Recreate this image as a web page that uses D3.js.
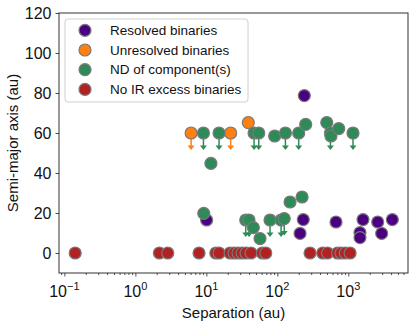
<!DOCTYPE html>
<html>
<head>
<meta charset="utf-8">
<script src="https://cdn.jsdelivr.net/npm/d3@7"></script>
<style>
  body { margin: 0; background: white; }
  svg { font-family: "Liberation Sans", Arial, sans-serif; }
</style>
</head>
<body>
<div id="chart"></div>
<script>
// Resolved binaries
const resolvedSep = [10.1, 240, 232, 209, 671, 1610, 2595, 4170, 2950, 1460, 1460];
const resolvedSma = [16.5, 78.7, 16.7, 9.8, 15.5, 16.7, 15.5, 16.7, 9.8, 10.2, 7.7];

// Unresolved binaries (lim = upper limit)
const unresolvedSep = [6.1, 22, 39];
const unresolvedSma = [60, 60, 65.2];
const unresolvedLim = [true, true, false];

// ND of component(s)
const ndSep = [9.1, 15.1, 47, 54.7, 91.8, 130, 200, 251, 497, 560, 570, 733, 1164,
               11.6, 9.2, 35.9, 39.9, 45.9, 57, 78.9, 113, 125, 151, 223];
const ndSma = [60, 60, 60, 60, 58.5, 60, 60, 64.3, 65.2, 60, 58.5, 62.2, 60,
               44.8, 19.8, 16.5, 16.5, 12.7, 7.2, 16.5, 16.5, 17.2, 25.5, 28];
const ndLim = [true, true, true, true, false, true, true, false, false, true, false, false, true,
               false, false, true, true, false, false, true, true, true, false, false];

// No IR excess binaries (all at 0)
const noExcessSep = [0.142, 2.18, 2.86, 7.89, 13.6, 15.1, 21.6, 24.6, 27.9, 31.8, 36.2, 42.6,
                     61.5, 68.7, 289, 436, 509, 705, 789, 907, 1059];

const xTicks = [0.1, 1, 10, 100, 1000];
const xTickExp = ["\u22121", "0", "1", "2", "3"];
const yTicks = [0, 20, 40, 60, 80, 100, 120];

const width = 416, height = 327;
const m = { left: 59, right: 8, top: 13, bottom: 54 };
const arrowLen = 8; // data units of the upper-limit arrows

const svg = d3.select("#chart").append("svg")
    .attr("width", width)
    .attr("height", height);

const x = d3.scaleLog()
    .domain([0.084, 6930])
    .range([m.left, width - m.right]);

const y = d3.scaleLinear()
    .domain([-10, 120])
    .range([height - m.bottom, m.top]);

// x axis: major + minor ticks
const minor = [];
for (let e = -2; e <= 3; e++) {
  for (let k = 2; k <= 9; k++) {
    const v = k * Math.pow(10, e);
    if (v >= x.domain()[0] && v <= x.domain()[1]) minor.push(v);
  }
}
svg.append("g")
    .attr("transform", `translate(0,${height - m.bottom})`)
    .call(d3.axisBottom(x).tickValues(minor).tickSize(2).tickFormat(""))
    .call(g => g.select(".domain").remove())
    .selectAll("line").attr("stroke", "#222").attr("stroke-width", 0.8);

const xAxis = svg.append("g")
    .attr("transform", `translate(0,${height - m.bottom})`)
    .call(d3.axisBottom(x).tickValues(xTicks).tickSize(3.5).tickFormat(""));
xAxis.select(".domain").remove();
xAxis.selectAll("line").attr("stroke", "#222").attr("stroke-width", 0.8);

const xLab = svg.append("g")
    .selectAll("text")
    .data(xTicks)
    .join("text")
    .attr("x", d => x(d))
    .attr("y", 297)
    .attr("text-anchor", "middle")
    .attr("font-size", 16)
    .attr("fill", "#111");
xLab.append("tspan").text("10");
xLab.append("tspan")
    .attr("font-size", 11)
    .attr("dy", -7.5)
    .text((d, i) => xTickExp[i]);

// y axis
const yAxis = svg.append("g")
    .attr("transform", `translate(${m.left},0)`)
    .call(d3.axisLeft(y).tickValues(yTicks).tickSize(3.5).tickPadding(4));
yAxis.select(".domain").remove();
yAxis.selectAll("line").attr("stroke", "#222").attr("stroke-width", 0.8);
yAxis.selectAll("text")
    .attr("font-size", 16)
    .attr("font-family", "Liberation Sans, Arial, sans-serif")
    .attr("fill", "#111");

// frame
svg.append("rect")
    .attr("x", m.left)
    .attr("y", m.top)
    .attr("width", width - m.left - m.right)
    .attr("height", height - m.top - m.bottom)
    .attr("fill", "none")
    .attr("stroke", "#333")
    .attr("stroke-width", 1);

// axis titles
svg.append("text")
    .attr("x", (m.left + width - m.right) / 2)
    .attr("y", 318)
    .attr("text-anchor", "middle")
    .attr("font-size", 15)
    .attr("fill", "#111")
    .text("Separation (au)");

svg.append("text")
    .attr("transform", `translate(18,${(m.top + height - m.bottom) / 2}) rotate(-90)`)
    .attr("text-anchor", "middle")
    .attr("font-size", 15)
    .attr("fill", "#111")
    .text("Semi-major axis (au)");

const colors = {
  resolved: "#4b0082",
  unresolved: "#ff8011",
  nd: "#2e8b57",
  noexcess: "#b22222"
};

const plot = svg.append("g");

function drawLimits(sep, sma, lim, color) {
  const pts = sep.map((s, i) => ({ s, a: sma[i], lim: lim[i] })).filter(d => d.lim);
  plot.append("g")
      .selectAll("line")
      .data(pts)
      .join("line")
      .attr("x1", d => x(d.s))
      .attr("x2", d => x(d.s))
      .attr("y1", d => y(d.a))
      .attr("y2", d => y(d.a - arrowLen) - 2)
      .attr("stroke", color)
      .attr("stroke-width", 1.5);
  plot.append("g")
      .selectAll("path")
      .data(pts)
      .join("path")
      .attr("d", d => {
        const cx = x(d.s), cy = y(d.a - arrowLen);
        return `M${cx - 3.5},${cy - 3.5}L${cx + 3.5},${cy - 3.5}L${cx},${cy + 1}Z`;
      })
      .attr("fill", color);
}

function drawPoints(sep, sma, color) {
  plot.append("g")
      .selectAll("circle")
      .data(sep.map((s, i) => ({ s, a: sma[i] })))
      .join("circle")
      .attr("cx", d => x(d.s))
      .attr("cy", d => y(d.a))
      .attr("r", 6)
      .attr("fill", color)
      .attr("stroke", "#7a7a7a")
      .attr("stroke-width", 1.2);
}

drawPoints(resolvedSep, resolvedSma, colors.resolved);
drawLimits(unresolvedSep, unresolvedSma, unresolvedLim, colors.unresolved);
drawPoints(unresolvedSep, unresolvedSma, colors.unresolved);
drawLimits(ndSep, ndSma, ndLim, colors.nd);
drawPoints(ndSep, ndSma, colors.nd);
drawPoints(noExcessSep, noExcessSep.map(() => 0), colors.noexcess);

// legend
const legendItems = [
  { label: "Resolved binaries", color: colors.resolved },
  { label: "Unresolved binaries", color: colors.unresolved },
  { label: "ND of component(s)", color: colors.nd },
  { label: "No IR excess binaries", color: colors.noexcess }
];
const legend = svg.append("g").attr("transform", "translate(65,19)");
legend.append("rect")
    .attr("width", 183)
    .attr("height", 83)
    .attr("rx", 3)
    .attr("fill", "white")
    .attr("fill-opacity", 0.85)
    .attr("stroke", "#d0d0d0")
    .attr("stroke-width", 1);
const li = legend.selectAll("g.item")
    .data(legendItems)
    .join("g")
    .attr("class", "item")
    .attr("transform", (d, i) => `translate(0,${11.3 + i * 19.7})`);
li.append("circle")
    .attr("cx", 20)
    .attr("r", 6)
    .attr("fill", d => d.color)
    .attr("stroke", "#7a7a7a")
    .attr("stroke-width", 1.2);
li.append("text")
    .attr("x", 45)
    .attr("dy", "0.35em")
    .attr("font-size", 13.5)
    .attr("fill", "#111")
    .text(d => d.label);
</script>
</body>
</html>
